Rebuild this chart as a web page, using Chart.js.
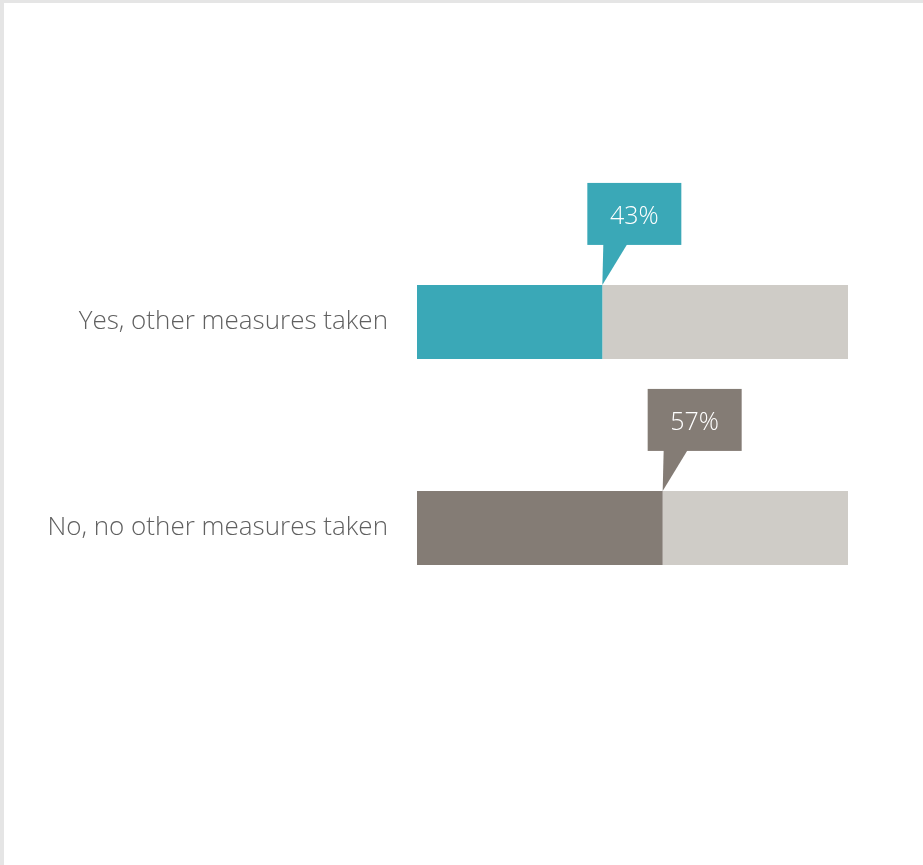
<!DOCTYPE html>
<html>
<head>
<meta charset="utf-8">
<script src="https://cdn.jsdelivr.net/npm/chart.js@4"></script>
<style>
  html, body { margin: 0; padding: 0; background: #fff; }
  body { width: 923px; height: 865px; overflow: hidden; }
  .frame { position: absolute; left: 0; top: 0; width: 919px; height: 862px;
           border-left: 4px solid #e5e5e5; border-top: 3px solid #e5e5e5; }
  canvas { display: block; }
</style>
</head>
<body>
<div class="frame"><canvas id="barChart" width="919" height="862"></canvas></div>
<script>
const categories = ['Yes, other measures taken', 'No, no other measures taken'];
const shareValues = [43, 57];
const restValues = [57, 43];
const barColors = ['#3aa8b7', '#847c75'];
const restColor = '#cfccc7';

// speech-bubble labels sitting above the end of each coloured bar
const calloutPlugin = {
    id: 'callouts',
    afterDatasetsDraw(chart) {
        const ctx = chart.ctx;
        const meta = chart.getDatasetMeta(0);
        meta.data.forEach((bar, i) => {
            const tipX = bar.x;
            const barTop = bar.y - bar.height / 2;
            const boxW = 94, boxH = 62;
            const boxLeft = tipX - 15;
            const boxBottom = barTop - 40;
            const boxTop = boxBottom - boxH;
            ctx.save();
            ctx.fillStyle = barColors[i];
            ctx.fillRect(boxLeft, boxTop, boxW, boxH);
            ctx.beginPath();
            ctx.moveTo(tipX, barTop);
            ctx.lineTo(tipX + 1, boxBottom - 1);
            ctx.lineTo(tipX + 25, boxBottom - 1);
            ctx.closePath();
            ctx.fill();
            ctx.fillStyle = '#ffffff';
            ctx.font = '300 25px "Open Sans"';
            ctx.textAlign = 'center';
            ctx.textBaseline = 'middle';
            ctx.fillText(shareValues[i] + '%', boxLeft + boxW / 2, boxTop + boxH / 2 + 3);
            ctx.restore();
        });
    }
};

const ctx = document.getElementById('barChart');

new Chart(ctx, {
    type: 'bar',
    data: {
        labels: categories,
        datasets: [{
            data: shareValues,
            backgroundColor: barColors,
            barPercentage: 0.36,
            categoryPercentage: 1
        }, {
            data: restValues,
            backgroundColor: restColor,
            barPercentage: 0.36,
            categoryPercentage: 1
        }]
    },
    options: {
        indexAxis: 'y',
        responsive: false,
        animation: false,
        layout: {
            padding: { left: 0, right: 75, top: 216, bottom: 234 }
        },
        plugins: {
            legend: { display: false },
            tooltip: { enabled: false }
        },
        scales: {
            x: {
                stacked: true,
                min: 0,
                max: 100,
                display: false
            },
            y: {
                stacked: true,
                border: { display: false },
                grid: { display: false, drawTicks: false },
                afterFit(scale) { scale.width = 413; },
                ticks: {
                    padding: 29,
                    color: '#606060',
                    font: { family: '"Open Sans"', size: 26, weight: '300' }
                }
            }
        }
    },
    plugins: [calloutPlugin]
});
</script>
</body>
</html>
